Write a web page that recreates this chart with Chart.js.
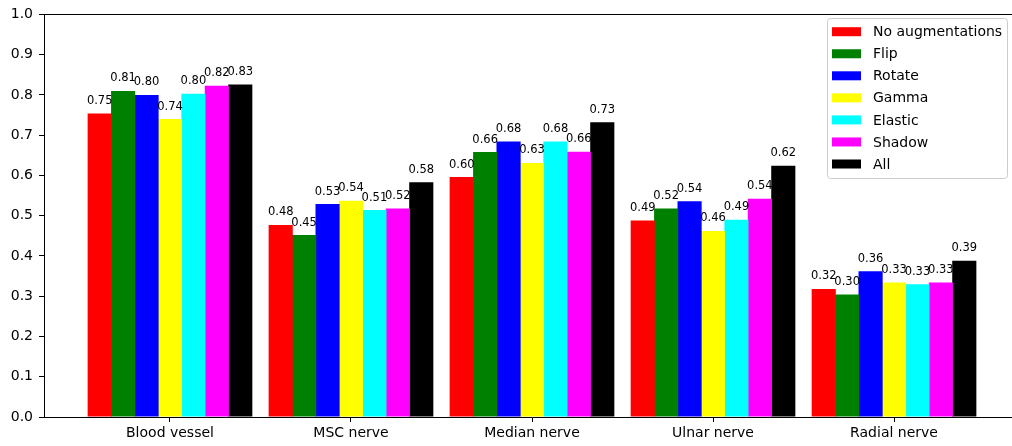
<!DOCTYPE html>
<html><head><meta charset="utf-8">
<script src="https://cdn.jsdelivr.net/npm/chart.js@4/dist/chart.umd.min.js"></script>
<style>html,body{margin:0;padding:0;overflow:hidden;background:#fff}canvas{display:block}</style>
</head><body>
<canvas id="c" width="1030" height="446"></canvas>
<script>
const categories = ['Blood vessel', 'MSC nerve', 'Median nerve', 'Ulnar nerve', 'Radial nerve'];
const seriesNames = ['No augmentations', 'Flip', 'Rotate', 'Gamma', 'Elastic', 'Shadow', 'All'];
const seriesColors = ['#ff0000', '#008000', '#0000ff', '#ffff00', '#00ffff', '#ff00ff', '#000000'];
const noAugmentations = [0.754, 0.477, 0.596, 0.488, 0.318];
const flip            = [0.810, 0.452, 0.658, 0.518, 0.304];
const rotate          = [0.800, 0.529, 0.684, 0.536, 0.362];
const gamma           = [0.740, 0.537, 0.631, 0.462, 0.334];
const elastic         = [0.803, 0.514, 0.684, 0.490, 0.330];
const shadow          = [0.823, 0.518, 0.659, 0.542, 0.334];
const all             = [0.826, 0.583, 0.732, 0.624, 0.388];
const yTickLabels = ['0.0','0.1','0.2','0.3','0.4','0.5','0.6','0.7','0.8','0.9','1.0'];

const seriesValues = [noAugmentations, flip, rotate, gamma, elastic, shadow, all];
const FONT = '"DejaVu Sans", sans-serif';

const datasets = seriesNames.map((name, s) => ({
  label: name,
  data: seriesValues[s].map((v, i) => ({ x: i, y: v })),
  backgroundColor: seriesColors[s],
  borderWidth: 0,
  categoryPercentage: 0.906,
  barPercentage: 1.03
}));

const valueLabels = {
  id: 'valueLabels',
  afterDatasetsDraw(chart) {
    const ctx = chart.ctx;
    ctx.save();
    ctx.font = '11.5px ' + FONT;
    ctx.fillStyle = '#000';
    ctx.textAlign = 'center';
    ctx.textBaseline = 'alphabetic';
    chart.data.datasets.forEach((ds, di) => {
      const meta = chart.getDatasetMeta(di);
      meta.data.forEach((el, i) => {
        ctx.fillText(ds.data[i].y.toFixed(2), el.x, el.y - 9.5);
      });
    });
    ctx.restore();
  }
};

const frameAndLegend = {
  id: 'frameAndLegend',
  afterDraw(chart) {
    const ctx = chart.ctx;
    const a = chart.chartArea;
    ctx.save();
    ctx.strokeStyle = '#000';
    ctx.lineWidth = 1;
    ctx.beginPath();
    ctx.moveTo(a.left, Math.round(a.top) + 0.5);
    ctx.lineTo(a.right, Math.round(a.top) + 0.5);
    ctx.stroke();
    const bx = 827.5, by = 18.5, bw = 180, bh = 160, r = 3;
    ctx.beginPath();
    ctx.moveTo(bx + r, by);
    ctx.lineTo(bx + bw - r, by);
    ctx.arcTo(bx + bw, by, bx + bw, by + r, r);
    ctx.lineTo(bx + bw, by + bh - r);
    ctx.arcTo(bx + bw, by + bh, bx + bw - r, by + bh, r);
    ctx.lineTo(bx + r, by + bh);
    ctx.arcTo(bx, by + bh, bx, by + bh - r, r);
    ctx.lineTo(bx, by + r);
    ctx.arcTo(bx, by, bx + r, by, r);
    ctx.closePath();
    ctx.fillStyle = 'rgba(255,255,255,0.85)';
    ctx.fill();
    ctx.strokeStyle = '#cccccc';
    ctx.stroke();
    ctx.font = '14px ' + FONT;
    ctx.textAlign = 'left';
    ctx.textBaseline = 'middle';
    chart.data.datasets.forEach((ds, i) => {
      const cy = 31.7 + i * 22.05;
      ctx.fillStyle = ds.backgroundColor;
      ctx.fillRect(832, cy - 4.5, 29, 9);
      ctx.fillStyle = '#000';
      ctx.fillText(ds.label, 873, cy + 1);
    });
    ctx.restore();
  }
};

new Chart(document.getElementById('c'), {
  type: 'bar',
  data: { datasets },
  options: {
    responsive: false,
    animation: false,
    layout: { padding: { top: 13, right: 10, left: 0, bottom: 0 } },
    plugins: { legend: { display: false }, tooltip: { enabled: false } },
    scales: {
      x: {
        type: 'linear',
        min: -0.696,
        max: 4.696,
        bounds: 'data',
        offset: false,
        grid: { display: true, drawOnChartArea: false, drawTicks: true, tickLength: 5, color: '#000', offset: false },
        border: { display: true, color: '#000', width: 1 },
        afterBuildTicks(scale) { scale.ticks = categories.map((_, i) => ({ value: i })); },
        ticks: {
          autoSkip: false,
          maxRotation: 0,
          padding: 3,
          color: '#000',
          font: { family: FONT, size: 14 },
          callback: (v) => categories[Math.round(v)] ?? ''
        },
        afterFit(scale) { scale.height = 29; }
      },
      y: {
        type: 'linear',
        min: 0,
        max: 1,
        grid: { display: true, drawOnChartArea: false, drawTicks: true, tickLength: 5, color: '#000' },
        border: { display: true, color: '#000', width: 1 },
        ticks: {
          stepSize: 0.1,
          padding: 6,
          color: '#000',
          font: { family: FONT, size: 14 },
          callback: (v) => yTickLabels[Math.round(v * 10)]
        },
        afterFit(scale) { scale.width = 44; }
      }
    }
  },
  plugins: [valueLabels, frameAndLegend]
});
</script>
</body></html>
